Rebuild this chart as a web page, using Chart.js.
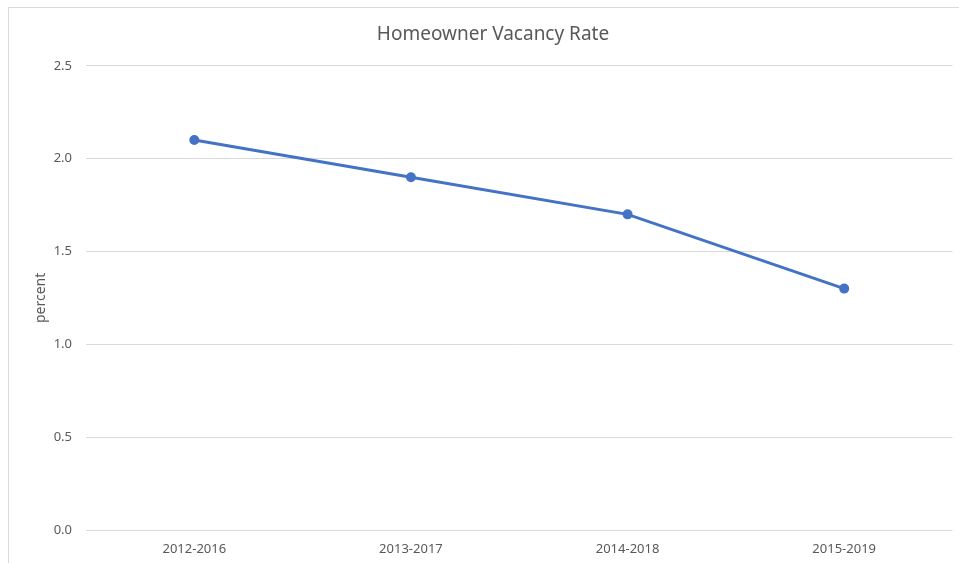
<!DOCTYPE html>
<html>
<head>
<meta charset="utf-8">
<script src="https://cdn.jsdelivr.net/npm/chart.js@4"></script>
<style>
  html, body { margin: 0; padding: 0; background: #fff; overflow: hidden; }
  #wrap { position: relative; width: 959px; height: 563px; }
  #frame { position: absolute; left: 8px; top: 7px; width: 1000px; height: 600px; border: 1px solid #d9d9d9; box-sizing: border-box; }
  canvas { position: absolute; left: 0; top: 0; }
</style>
</head>
<body>
<div id="wrap">
  <div id="frame"></div>
  <canvas id="chart" width="959" height="563"></canvas>
</div>
<script>
// ---------- Données ----------
const periods = ["2012-2016", "2013-2017", "2014-2018", "2015-2019"];
const vacancyRate = [2.1, 1.9, 1.7, 1.3];
const yTicks = [0, 0.5, 1.0, 1.5, 2.0, 2.5];

const grey = "#595959";
const gridCol = "#d9d9d9";
const blue = "#4472c4";
const font = "'Noto Sans', 'Open Sans', sans-serif";

new Chart(document.getElementById("chart"), {
  type: "line",
  data: {
    labels: periods,
    datasets: [{
      data: vacancyRate,
      borderColor: blue,
      backgroundColor: blue,
      borderWidth: 3,
      pointRadius: 3.5,
      pointHoverRadius: 3.5,
      tension: 0,
    }],
  },
  options: {
    responsive: false,
    animation: false,
    layout: { padding: { top: 0, right: 6, left: 33, bottom: 0 } },
    plugins: {
      legend: { display: false },
      tooltip: { enabled: false },
      title: {
        display: true,
        text: "Homeowner Vacancy Rate",
        color: grey,
        font: { family: font, size: 19, weight: "normal" },
        padding: { top: 23, bottom: 20 },
      },
    },
    scales: {
      x: {
        offset: true,
        grid: { display: false, drawTicks: false },
        border: { display: false },
        ticks: { color: grey, font: { family: font, size: 13 }, padding: 11, maxRotation: 0 },
        afterFit: (s) => { s.height = 33; },
      },
      y: {
        min: 0,
        max: 2.5,
        afterBuildTicks: (s) => { s.ticks = yTicks.map((v) => ({ value: v })); },
        grid: { color: gridCol, lineWidth: 1, drawTicks: false },
        border: { display: false },
        ticks: {
          color: grey,
          font: { family: font, size: 13 },
          padding: 14,
          callback: (v) => Number(v).toFixed(1),
        },
        title: {
          display: true,
          text: "percent",
          color: grey,
          font: { family: font, size: 14 },
          padding: { top: 0, bottom: 0 },
        },
        afterFit: (s) => { s.width = 86 - 33; },
      },
    },
  },
});
</script>
</body>
</html>
